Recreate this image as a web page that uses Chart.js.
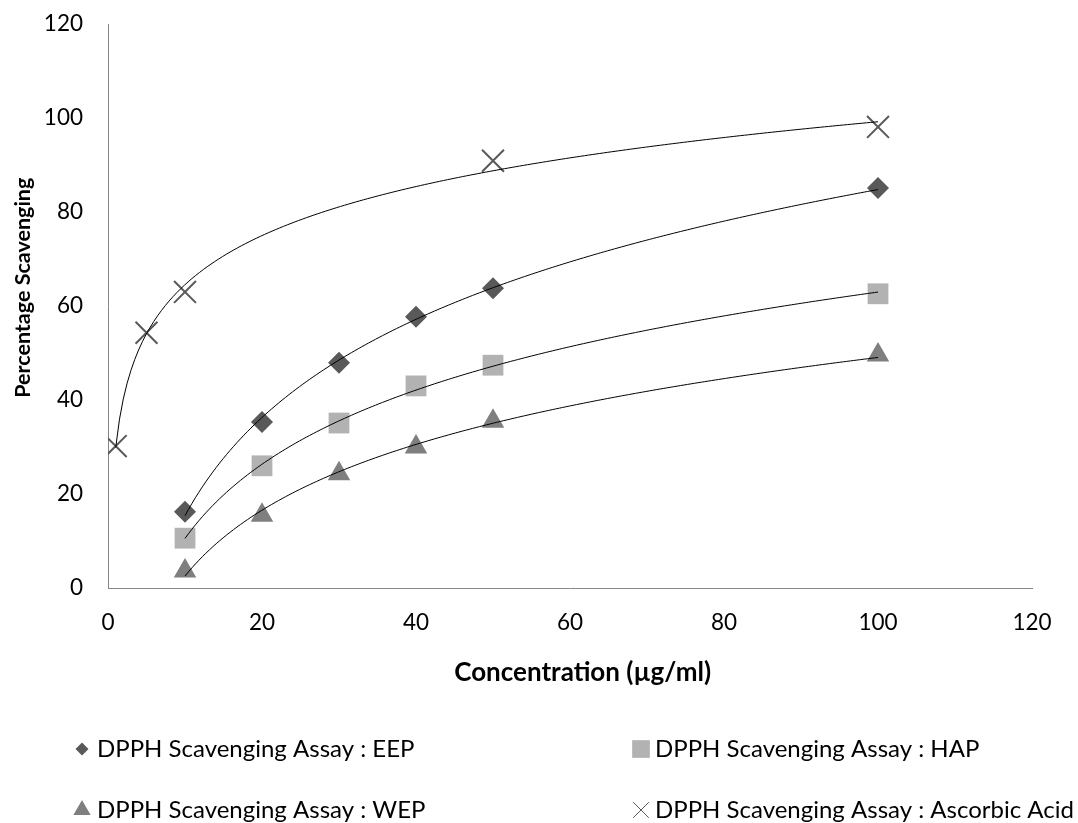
<!DOCTYPE html>
<html>
<head>
<meta charset="utf-8">
<script src="https://cdn.jsdelivr.net/npm/chart.js@4.4.0/dist/chart.umd.min.js"></script>
<style>
  html, body { margin: 0; padding: 0; background: #fff; }
  #wrap { width: 1078px; height: 823px; position: relative; }
</style>
</head>
<body>
<div id="wrap"><canvas id="dpphChart" width="1078" height="823"></canvas></div>
<script>
// concentrations (ug/ml) and % scavenging
var concExtract = [10, 20, 30, 40, 50, 100];
var eepValues = [16.2, 35.3, 47.9, 57.7, 63.8, 85.1];
var hapValues = [10.6, 26.0, 35.1, 43.0, 47.4, 62.6];
var wepValues = [3.6, 15.5, 24.3, 30.0, 35.5, 49.6];
var concAscorbic = [1, 5, 10, 50, 100];
var ascorbicValues = [30.2, 54.3, 63.0, 90.9, 98.1];
var xTicks = [0, 20, 40, 60, 80, 100, 120];
var yTicks = [0, 20, 40, 60, 80, 100, 120];
var seriesNames = [
    "DPPH Scavenging Assay : EEP",
    "DPPH Scavenging Assay : HAP",
    "DPPH Scavenging Assay : WEP",
    "DPPH Scavenging Assay : Ascorbic Acid"
];

var FONT = "Lato, 'Open Sans', sans-serif";

function toPoints(xs, ys) {
    return xs.map(function (x, i) { return { x: x, y: ys[i] }; });
}

// least squares fit of y = a*ln(x) + b (Excel log trendline)
function logFit(xs, ys) {
    var n = xs.length, sx = 0, sy = 0, sxx = 0, sxy = 0;
    for (var i = 0; i < n; i++) {
        var lx = Math.log(xs[i]);
        sx += lx; sy += ys[i]; sxx += lx * lx; sxy += lx * ys[i];
    }
    var a = (n * sxy - sx * sy) / (n * sxx - sx * sx);
    var b = (sy - a * sx) / n;
    return { a: a, b: b };
}

var trendlinePlugin = {
    id: 'logTrendlines',
    afterDatasetsDraw: function (chart) {
        var ctx = chart.ctx;
        var xs = chart.scales.x, ys = chart.scales.y;
        ctx.save();
        ctx.strokeStyle = '#000';
        ctx.lineWidth = 1;
        chart.data.datasets.forEach(function (ds) {
            var px = ds.data.map(function (p) { return p.x; });
            var py = ds.data.map(function (p) { return p.y; });
            var fit = logFit(px, py);
            var x0 = Math.min.apply(null, px), x1 = Math.max.apply(null, px);
            ctx.beginPath();
            for (var k = 0; k <= 200; k++) {
                var xv = x0 + (x1 - x0) * k / 200;
                var yv = fit.a * Math.log(xv) + fit.b;
                var cx = xs.getPixelForValue(xv), cy = ys.getPixelForValue(yv);
                if (k === 0) ctx.moveTo(cx, cy); else ctx.lineTo(cx, cy);
            }
            ctx.stroke();
        });
        ctx.restore();
    }
};

// two-column legend under the axis title
var legendPlugin = {
    id: 'gridLegend',
    afterDraw: function (chart) {
        var ctx = chart.ctx;
        var cols = [82, 641], textX = [97, 655], rows = [749, 810];
        ctx.save();
        chart.data.datasets.forEach(function (ds, i) {
            var col = i % 2, cy = rows[Math.floor(i / 2)];
            var isCross = ds.pointStyle === 'crossRot';
            ctx.fillStyle = ds.backgroundColor;
            ctx.strokeStyle = ds.borderColor;
            ctx.lineWidth = isCross ? 1 : 0.01;
            Chart.helpers.drawPoint(ctx, {
                pointStyle: ds.pointStyle,
                radius: ds.legendRadius,
                borderWidth: isCross ? 1 : 0.01,
                rotation: 0
            }, cols[col], cy);
            ctx.font = "24px " + FONT;
            ctx.textBaseline = 'middle';
            ctx.textAlign = 'left';
            ctx.fillStyle = '#000';
            ctx.fillText(ds.label, textX[col], cy);
        });
        ctx.restore();
    }
};

var ctxEl = document.getElementById('dpphChart');
var dpphChart = new Chart(ctxEl, {
    type: 'scatter',
    data: {
        datasets: [{
            label: seriesNames[0],
            data: toPoints(concExtract, eepValues),
            pointStyle: 'rectRot',
            pointRadius: 11,
            legendRadius: 6.5,
            backgroundColor: '#595959',
            borderColor: '#595959',
            borderWidth: 0
        }, {
            label: seriesNames[1],
            data: toPoints(concExtract, hapValues),
            pointStyle: 'rect',
            pointRadius: 14.7,
            legendRadius: 12.5,
            backgroundColor: '#b2b2b2',
            borderColor: '#b2b2b2',
            borderWidth: 0
        }, {
            label: seriesNames[2],
            data: toPoints(concExtract, wepValues),
            pointStyle: 'triangle',
            pointRadius: 13,
            legendRadius: 10,
            backgroundColor: '#7f7f7f',
            borderColor: '#7f7f7f',
            borderWidth: 0
        }, {
            label: seriesNames[3],
            data: toPoints(concAscorbic, ascorbicValues),
            pointStyle: 'crossRot',
            pointRadius: 15.5,
            legendRadius: 11,
            backgroundColor: '#595959',
            borderColor: '#595959',
            borderWidth: 2
        }]
    },
    options: {
        responsive: false,
        animation: false,
        layout: { padding: { left: 0, top: 24, right: 46, bottom: 0 } },
        plugins: {
            legend: { display: false },
            tooltip: { enabled: false }
        },
        scales: {
            x: {
                type: 'linear',
                min: 0,
                max: 120,
                afterBuildTicks: function (scale) {
                    scale.ticks = xTicks.map(function (v) { return { value: v }; });
                },
                afterFit: function (scale) { scale.height = 235; },
                grid: { color: 'transparent', drawTicks: false },
                border: { color: '#868686', width: 1 },
                ticks: { color: '#000', font: { family: FONT, size: 22.5 }, padding: 21 },
                title: {
                    display: true,
                    // leading spaces nudge the centred title right, as in the original
                    text: '    Concentration (\u00b5g/ml)',
                    color: '#000',
                    font: { family: FONT, size: 26, weight: 'bold' },
                    padding: { top: 0, bottom: 135 }
                }
            },
            y: {
                type: 'linear',
                min: 0,
                max: 120,
                afterBuildTicks: function (scale) {
                    scale.ticks = yTicks.map(function (v) { return { value: v }; });
                },
                afterFit: function (scale) {
                    scale.width = 108;
                    // top label overhang fits inside the layout padding
                    scale.paddingTop = 0;
                    scale.paddingBottom = 0;
                },
                grid: { color: 'transparent', drawTicks: false },
                border: { color: '#868686', width: 1 },
                ticks: { color: '#000', font: { family: FONT, size: 22.5 }, padding: 25 },
                title: {
                    display: true,
                    text: '       Percentage Scavenging',
                    color: '#000',
                    font: { family: FONT, size: 21.5, weight: 'bold' },
                    padding: { top: 10, bottom: 0 }
                }
            }
        }
    },
    plugins: [trendlinePlugin, legendPlugin]
});
</script>
</body>
</html>
